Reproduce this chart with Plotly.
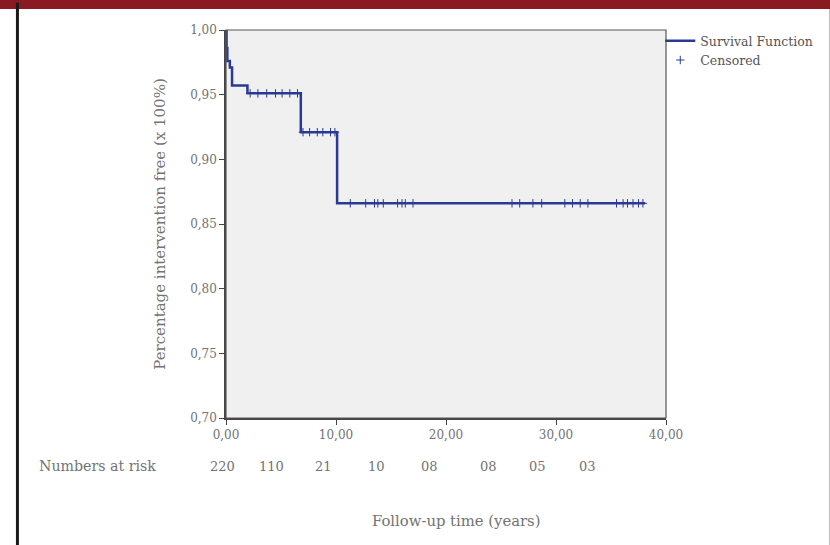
import plotly.graph_objects as go

# Kaplan-Meier step data
step_times = [0.0, 0.05, 0.12, 0.35, 0.55, 1.95, 6.8, 10.1, 38.1]
step_surv = [1.0, 0.986, 0.976, 0.971, 0.957, 0.951, 0.921, 0.866, 0.866]

# Censored observations
cens_times_1 = [2.2, 2.9, 3.7, 4.5, 5.1, 5.8, 6.5]
cens_times_2 = [7.0, 7.6, 8.3, 8.8, 9.5, 9.9]
cens_times_3 = [11.3, 12.7, 13.5, 13.8, 14.3, 15.6, 16.0, 16.3, 17.0,
                26.0, 26.7, 27.9, 28.7, 30.8, 31.5, 32.2, 32.9,
                35.5, 36.1, 36.5, 37.0, 37.5, 37.9]
cens_levels = [0.951, 0.921, 0.866]

# Numbers at risk
risk_labels = ["220", "110", "21", "10", "08", "08", "05", "03"]
risk_x = [0.0, 4.1, 8.9, 13.7, 18.5, 23.9, 28.3, 32.9]

x_ticks = [0, 10, 20, 30, 40]
y_ticks = [0.70, 0.75, 0.80, 0.85, 0.90, 0.95, 1.00]

LINE = "#2a3a94"
TXT = "#737373"
FONT = "DejaVu Serif"

cx = cens_times_1 + cens_times_2 + cens_times_3
cy = ([cens_levels[0]] * len(cens_times_1) + [cens_levels[1]] * len(cens_times_2)
      + [cens_levels[2]] * len(cens_times_3))

fig = go.Figure()
fig.add_trace(go.Scatter(x=step_times, y=step_surv, mode="lines", line_shape="hv",
                         line=dict(color=LINE, width=2.5), name="Survival Function"))
fig.add_trace(go.Scatter(x=cx, y=cy, mode="markers", name="Censored",
                         marker=dict(symbol="cross-thin", size=6,
                                     line=dict(color=LINE, width=1), color=LINE)))

annotations = []
for i, (lab, xv) in enumerate(zip(risk_labels, risk_x)):
    annotations.append(dict(x=xv, y=-0.124, xref="x", yref="paper", text=lab,
                            showarrow=False, xshift=-4 if i == 0 else 0,
                            font=dict(family=FONT, size=13, color=TXT),
                            xanchor="center", yanchor="middle"))
annotations.append(dict(x=-0.43, y=-0.124, xref="paper", yref="paper",
                        text="Numbers at risk", showarrow=False, xanchor="left",
                        yanchor="middle", font=dict(family=FONT, size=14.2, color=TXT)))
annotations.append(dict(x=0.523, y=-0.263, xref="paper", yref="paper",
                        text="Follow-up time (years)", showarrow=False, xanchor="center",
                        yanchor="middle", font=dict(family=FONT, size=14.8, color=TXT)))

shapes = [
    dict(type="rect", xref="paper", yref="paper", x0=-0.6, x1=1.5,
         y0=1.054, y1=1.09, fillcolor="#8a1a22", line_width=0, layer="above"),
    dict(type="line", xref="paper", yref="paper", x0=-0.474, x1=-0.474,
         y0=-0.33, y1=1.07, line=dict(color="#1a1a1a", width=3)),
    dict(type="line", xref="paper", yref="paper", x0=1.3715, x1=1.3715,
         y0=-0.33, y1=1.054, line=dict(color="#bdbdbd", width=1)),
    dict(type="rect", xref="paper", yref="paper", x0=0, x1=1, y0=0, y1=1,
         line=dict(color="#555555", width=1.2), layer="above"),
]

fig.update_layout(
    width=830, height=545,
    margin=dict(l=226, r=164, t=30, b=127),
    paper_bgcolor="white", plot_bgcolor="#f0f0f0",
    separators=",.",
    font=dict(family=FONT, size=12, color=TXT),
    showlegend=True,
    legend=dict(x=0.987, y=1.01, xanchor="left", yanchor="top", bgcolor="rgba(0,0,0,0)",
                font=dict(family=FONT, size=12.5, color="#555555"), tracegroupgap=0,
                itemwidth=30),
    annotations=annotations, shapes=shapes,
)
fig.update_xaxes(range=[0, 40], tickvals=x_ticks, tickformat=".2f", showgrid=False,
                 zeroline=False, ticks="outside", ticklen=5, tickcolor="#444",
                 showline=True, linecolor="#444", linewidth=1.5,
                 tickfont=dict(family=FONT, size=12, color=TXT))
fig.update_yaxes(range=[0.70, 1.00], tickvals=y_ticks, tickformat=".2f", showgrid=False,
                 zeroline=False, ticks="outside", ticklen=5, tickcolor="#444",
                 showline=True, linecolor="#444", linewidth=1.5,
                 title=dict(text="Percentage intervention free (x 100%)", standoff=21,
                            font=dict(family=FONT, size=15, color=TXT)),
                 tickfont=dict(family=FONT, size=12, color=TXT))

fig.write_html("out.html", config={"displayModeBar": False},
               post_script="document.body.style.margin='0';document.body.style.overflow='hidden';")
